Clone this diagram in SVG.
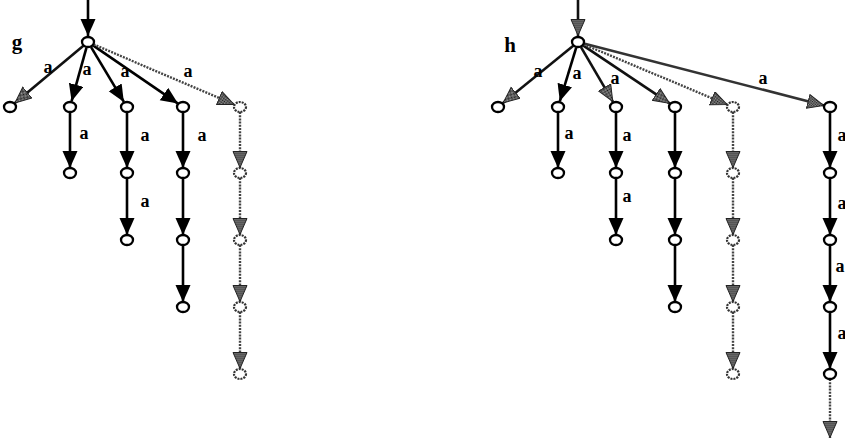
<svg xmlns="http://www.w3.org/2000/svg" width="845" height="443" viewBox="0 0 845 443">
  <style>
    .e { stroke: #000; stroke-width: 2.6; fill: none; marker-end: url(#arrB); }
    .eg { stroke: #444; stroke-width: 2.4; fill: none; stroke-dasharray: 2 1.2; marker-end: url(#arrG); }
    .ed { stroke: #111; stroke-width: 2.6; fill: none; marker-end: url(#arrG); }
    .n { fill: #fff; stroke: #000; stroke-width: 2.3; }
    .ng { fill: #fff; stroke: #333; stroke-width: 2.2; stroke-dasharray: 2 1; }
    .lbl { font-family: "Liberation Serif", serif; font-weight: bold; font-size: 18px; fill: #000; text-anchor: middle; }
    .big { font-family: "Liberation Serif", serif; font-weight: bold; font-size: 21px; fill: #000; text-anchor: middle; }
  </style>
  <defs>
    <pattern id="stip" width="2" height="2" patternUnits="userSpaceOnUse">
      <rect width="2" height="2" fill="#999"/>
      <rect width="1" height="1" fill="#111"/>
      <rect x="1" y="1" width="1" height="1" fill="#333"/>
    </pattern>
    <marker id="arrB" markerUnits="userSpaceOnUse" markerWidth="18" markerHeight="16" refX="17" refY="7.5" orient="auto">
      <path d="M0,0 L17,7.5 L0,15 z" fill="#000"/>
    </marker>
    <marker id="arrG" markerUnits="userSpaceOnUse" markerWidth="18" markerHeight="16" refX="17" refY="7.5" orient="auto">
      <path d="M0.5,0.5 L16.5,7.5 L0.5,14.5 z" fill="url(#stip)" stroke="#222" stroke-width="1"/>
    </marker>
  </defs>

  <!-- ===== graph g ===== -->
  <g id="g-connectors">
    <line class="e" x1="88" y1="0" x2="88" y2="36"/>
    <line class="ed" x1="83.4" y1="45.8" x2="14.6" y2="103.2"/>
    <line class="e" x1="86.4" y1="47.8" x2="71.6" y2="101.2"/>
    <line class="e" x1="91.1" y1="47.1" x2="123.9" y2="101.9"/>
    <line class="e" x1="93" y1="45.4" x2="178" y2="103.6"/>
    <line class="eg" x1="93.5" y1="44.4" x2="234.5" y2="104.6"/>
    <!-- vertical chains -->
    <line class="e" x1="70" y1="112" x2="70" y2="168"/>
    <line class="e" x1="127" y1="112" x2="127" y2="168"/>
    <line class="e" x1="127" y1="178" x2="127" y2="235"/>
    <line class="e" x1="183" y1="112" x2="183" y2="168"/>
    <line class="e" x1="183" y1="178" x2="183" y2="235"/>
    <line class="e" x1="183" y1="245" x2="183" y2="302"/>
    <line class="eg" x1="240" y1="112" x2="240" y2="168"/>
    <line class="eg" x1="240" y1="178" x2="240" y2="235"/>
    <line class="eg" x1="240" y1="245" x2="240" y2="302"/>
    <line class="eg" x1="240" y1="312" x2="240" y2="369"/>
  </g>
  <g id="g-labels">
    <text class="big" x="17" y="49">g</text>
    <text class="lbl" x="48" y="73">a</text>
    <text class="lbl" x="87" y="75">a</text>
    <text class="lbl" x="125" y="77">a</text>
    <text class="lbl" x="188" y="77">a</text>
    <text class="lbl" x="84" y="139">a</text>
    <text class="lbl" x="145" y="141">a</text>
    <text class="lbl" x="202" y="141">a</text>
    <text class="lbl" x="145" y="207">a</text>
  </g>
  <g id="g-root"><ellipse class="n" cx="88" cy="42" rx="6" ry="5"/></g>
  <g id="g-n1"><ellipse class="n" cx="10" cy="107" rx="6" ry="5"/></g>
  <g id="g-n2">
    <ellipse class="n" cx="70" cy="107" rx="6" ry="5"/>
    <ellipse class="n" cx="70" cy="173" rx="6" ry="5"/>
  </g>
  <g id="g-n3">
    <ellipse class="n" cx="127" cy="107" rx="6" ry="5"/>
    <ellipse class="n" cx="127" cy="173" rx="6" ry="5"/>
    <ellipse class="n" cx="127" cy="240" rx="6" ry="5"/>
  </g>
  <g id="g-n4">
    <ellipse class="n" cx="183" cy="107" rx="6" ry="5"/>
    <ellipse class="n" cx="183" cy="173" rx="6" ry="5"/>
    <ellipse class="n" cx="183" cy="240" rx="6" ry="5"/>
    <ellipse class="n" cx="183" cy="307" rx="6" ry="5"/>
  </g>
  <g id="g-n5">
    <ellipse class="ng" cx="240" cy="107" rx="6" ry="5"/>
    <ellipse class="ng" cx="240" cy="173" rx="6" ry="5"/>
    <ellipse class="ng" cx="240" cy="240" rx="6" ry="5"/>
    <ellipse class="ng" cx="240" cy="307" rx="6" ry="5"/>
    <ellipse class="ng" cx="240" cy="374" rx="6" ry="5"/>
  </g>

  <!-- ===== graph h ===== -->
  <g id="h-connectors">
    <line class="ed" x1="578" y1="0" x2="578" y2="36"/>
    <line class="ed" x1="573.3" y1="45.8" x2="502.7" y2="103.2"/>
    <line class="e" x1="576.2" y1="47.7" x2="559.8" y2="101.3"/>
    <line class="ed" x1="581" y1="47.2" x2="613" y2="101.8"/>
    <line class="ed" x1="583" y1="45.3" x2="670" y2="103.7"/>
    <line class="eg" x1="583.5" y1="44.3" x2="727.5" y2="104.7"/>
    <line class="ed" x1="583.8" y1="43.5" x2="824.2" y2="105.5" style="stroke:#333"/>
    <!-- vertical chains -->
    <line class="e" x1="558" y1="112" x2="558" y2="168"/>
    <line class="e" x1="616" y1="112" x2="616" y2="168"/>
    <line class="e" x1="616" y1="178" x2="616" y2="235"/>
    <line class="e" x1="675" y1="112" x2="675" y2="168"/>
    <line class="e" x1="675" y1="178" x2="675" y2="235"/>
    <line class="e" x1="675" y1="245" x2="675" y2="302"/>
    <line class="eg" x1="733" y1="112" x2="733" y2="168"/>
    <line class="eg" x1="733" y1="178" x2="733" y2="235"/>
    <line class="eg" x1="733" y1="245" x2="733" y2="302"/>
    <line class="eg" x1="733" y1="312" x2="733" y2="369"/>
    <line class="e" x1="830" y1="112" x2="830" y2="168"/>
    <line class="e" x1="830" y1="178" x2="830" y2="235"/>
    <line class="e" x1="830" y1="245" x2="830" y2="302"/>
    <line class="e" x1="830" y1="312" x2="830" y2="369"/>
    <line class="eg" x1="830" y1="379" x2="830" y2="438"/>
  </g>
  <g id="h-labels">
    <text class="big" x="510" y="52">h</text>
    <text class="lbl" x="538" y="77">a</text>
    <text class="lbl" x="577" y="79">a</text>
    <text class="lbl" x="615" y="84">a</text>
    <text class="lbl" x="763" y="84">a</text>
    <text class="lbl" x="569" y="139">a</text>
    <text class="lbl" x="627" y="141">a</text>
    <text class="lbl" x="627" y="202">a</text>
    <text class="lbl" x="842" y="141">a</text>
    <text class="lbl" x="842" y="209">a</text>
    <text class="lbl" x="840" y="272">a</text>
    <text class="lbl" x="842" y="339">a</text>
  </g>
  <g id="h-root"><ellipse class="n" cx="578" cy="42" rx="6" ry="5"/></g>
  <g id="h-n1"><ellipse class="n" cx="498" cy="107" rx="6" ry="5"/></g>
  <g id="h-n2">
    <ellipse class="n" cx="558" cy="107" rx="6" ry="5"/>
    <ellipse class="n" cx="558" cy="173" rx="6" ry="5"/>
  </g>
  <g id="h-n3">
    <ellipse class="n" cx="616" cy="107" rx="6" ry="5"/>
    <ellipse class="n" cx="616" cy="173" rx="6" ry="5"/>
    <ellipse class="n" cx="616" cy="240" rx="6" ry="5"/>
  </g>
  <g id="h-n4">
    <ellipse class="n" cx="675" cy="107" rx="6" ry="5"/>
    <ellipse class="n" cx="675" cy="173" rx="6" ry="5"/>
    <ellipse class="n" cx="675" cy="240" rx="6" ry="5"/>
    <ellipse class="n" cx="675" cy="307" rx="6" ry="5"/>
  </g>
  <g id="h-n5">
    <ellipse class="ng" cx="733" cy="107" rx="6" ry="5"/>
    <ellipse class="ng" cx="733" cy="173" rx="6" ry="5"/>
    <ellipse class="ng" cx="733" cy="240" rx="6" ry="5"/>
    <ellipse class="ng" cx="733" cy="307" rx="6" ry="5"/>
    <ellipse class="ng" cx="733" cy="374" rx="6" ry="5"/>
  </g>
  <g id="h-n6">
    <ellipse class="n" cx="830" cy="107" rx="6" ry="5"/>
    <ellipse class="n" cx="830" cy="173" rx="6" ry="5"/>
    <ellipse class="n" cx="830" cy="240" rx="6" ry="5"/>
    <ellipse class="n" cx="830" cy="307" rx="6" ry="5"/>
    <ellipse class="n" cx="830" cy="374" rx="6" ry="5"/>
  </g>
</svg>
